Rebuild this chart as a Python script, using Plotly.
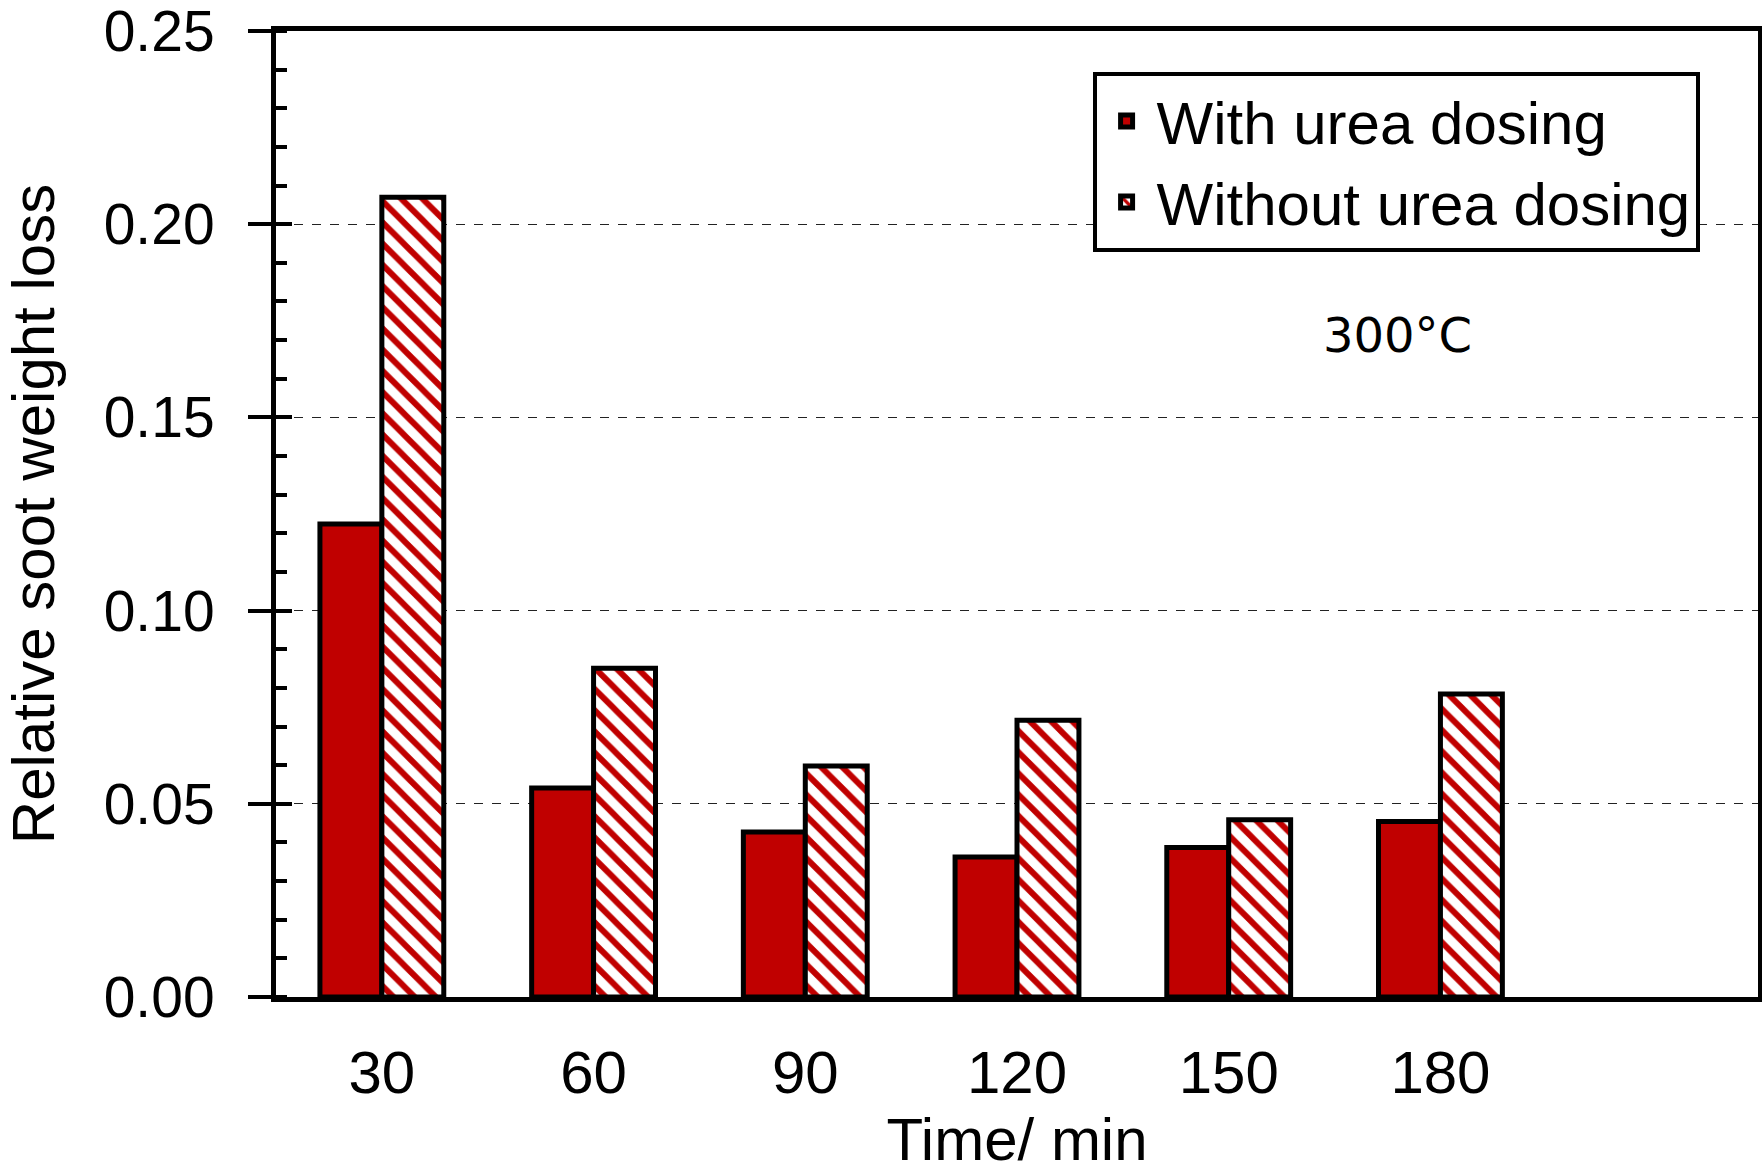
import plotly.graph_objects as go

categories = ["30", "60", "90", "120", "150", "180"]
with_urea = [0.1224, 0.0541, 0.0427, 0.0362, 0.0387, 0.0454]
without_urea = [0.207, 0.0851, 0.0598, 0.0716, 0.0459, 0.0784]
series_names = ["With urea dosing", "Without urea dosing"]
y_tick_vals = [0.00, 0.05, 0.10, 0.15, 0.20, 0.25]
y_tick_text = ["0.00", "0.05", "0.10", "0.15", "0.20", "0.25"]

RED = "#C00000"
FONT = "Liberation Sans, Arial, sans-serif"

fig = go.Figure()
fig.add_trace(go.Bar(
    x=categories, y=with_urea, name=series_names[0],
    marker=dict(color=RED, line=dict(color="black", width=5)),
))
fig.add_trace(go.Bar(
    x=categories, y=without_urea, name=series_names[1],
    marker=dict(color=RED, line=dict(color="black", width=5),
                pattern=dict(shape="\\", fgcolor=RED, bgcolor="white",
                             size=15, solidity=0.4, fillmode="replace")),
))
# empty helper trace so the overlay axis (inner half of the major ticks) is drawn
fig.add_trace(go.Scatter(x=[], y=[], yaxis="y2", showlegend=False, hoverinfo="skip"))

fig.update_layout(
    width=1762, height=1175,
    margin=dict(l=276, r=4, t=31, b=178, autoexpand=False),
    paper_bgcolor="white", plot_bgcolor="white",
    barmode="group", bargap=0.415, bargroupgap=0,
    font=dict(family=FONT, size=58, color="black"),
    showlegend=True,
    legend=dict(
        x=0.551, y=0.958, xanchor="left", yanchor="top",
        bordercolor="black", borderwidth=4, bgcolor="white",
        font=dict(family=FONT, size=60, color="black"),
        tracegroupgap=0, itemwidth=50,
    ),
    annotations=[dict(
        text="300°C", xref="paper", yref="paper", x=0.757, y=0.685,
        xanchor="center", yanchor="middle", showarrow=False,
        font=dict(family="DejaVu Sans", size=48, color="black"),
    )],
    yaxis2=dict(
        overlaying="y", anchor="x", side="left",
        range=[0, 0.25], tickvals=y_tick_vals, showticklabels=False,
        ticks="inside", ticklen=16, tickwidth=4, tickcolor="black",
        showgrid=False, showline=False, zeroline=False, automargin=False,
    ),
)

fig.update_xaxes(
    type="category", range=[-0.5, 6.5], automargin=False,
    showline=True, linecolor="black", linewidth=5, mirror=True,
    ticks="", showgrid=False, zeroline=False,
    ticklabelstandoff=19,
    tickfont=dict(family=FONT, size=60),
    title=dict(text="Time/ min", font=dict(family=FONT, size=60), standoff=12),
)
fig.update_layout(yaxis=dict(
    range=[0, 0.25], tickvals=y_tick_vals, ticktext=y_tick_text, automargin=False,
    showline=True, linecolor="black", linewidth=5, mirror=True,
    ticks="outside", ticklen=23, tickwidth=4, tickcolor="black",
    minor=dict(dtick=0.01, ticks="inside", ticklen=11, tickwidth=4,
               tickcolor="black", showgrid=False),
    showgrid=True, gridcolor="#222222", gridwidth=1.3, griddash="dash",
    zeroline=False, ticklabeloverflow="allow",
    ticklabelstandoff=22,
    tickfont=dict(family=FONT, size=57),
    title=dict(text="Relative soot weight loss", font=dict(family=FONT, size=60), standoff=34),
))

fig.write_html("out.html")
